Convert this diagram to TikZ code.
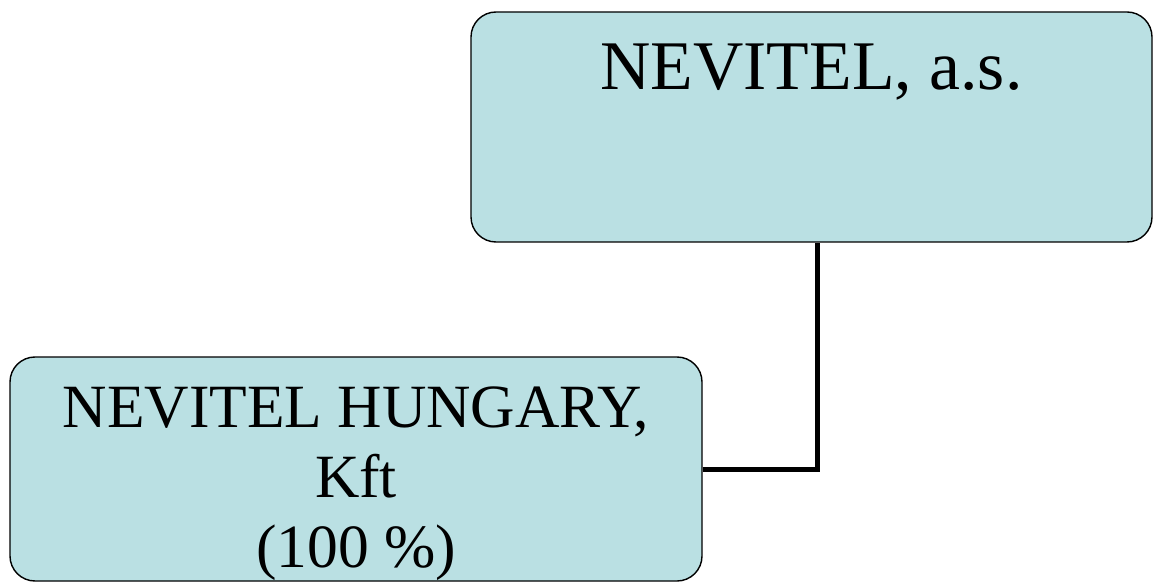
\documentclass[tikz,border=0pt]{standalone}
\usepackage{fontspec}
\setmainfont{Liberation Serif}
\definecolor{boxblue}{RGB}{186,224,227}

\begin{document}
\begin{tikzpicture}[x=1pt,y=1pt]
	\tikzstyle{firm}=[draw,fill=boxblue,line width=1.4pt,rounded corners=25pt,inner sep=0pt,align=center,anchor=base]
	\tikzstyle{link}=[line width=5pt]

	\useasboundingbox (0,0) rectangle (1154,582);

	\node[firm,minimum width=681pt,text height=78pt,text depth=152pt,font=\fontsize{69.7}{80}\selectfont](nevitel) at (811.5,492){NEVITEL, a.s.};
	\node[firm,minimum width=692pt,text height=210pt,text depth=14pt,font=\fontsize{61.5}{70}\selectfont](hungary) at (356,15){NEVITEL HUNGARY,\\Kft\\(100~\%)};

	\draw[link] (hungary.east) -| ([xshift=5.5pt]nevitel.south);

\end{tikzpicture}
\end{document}
